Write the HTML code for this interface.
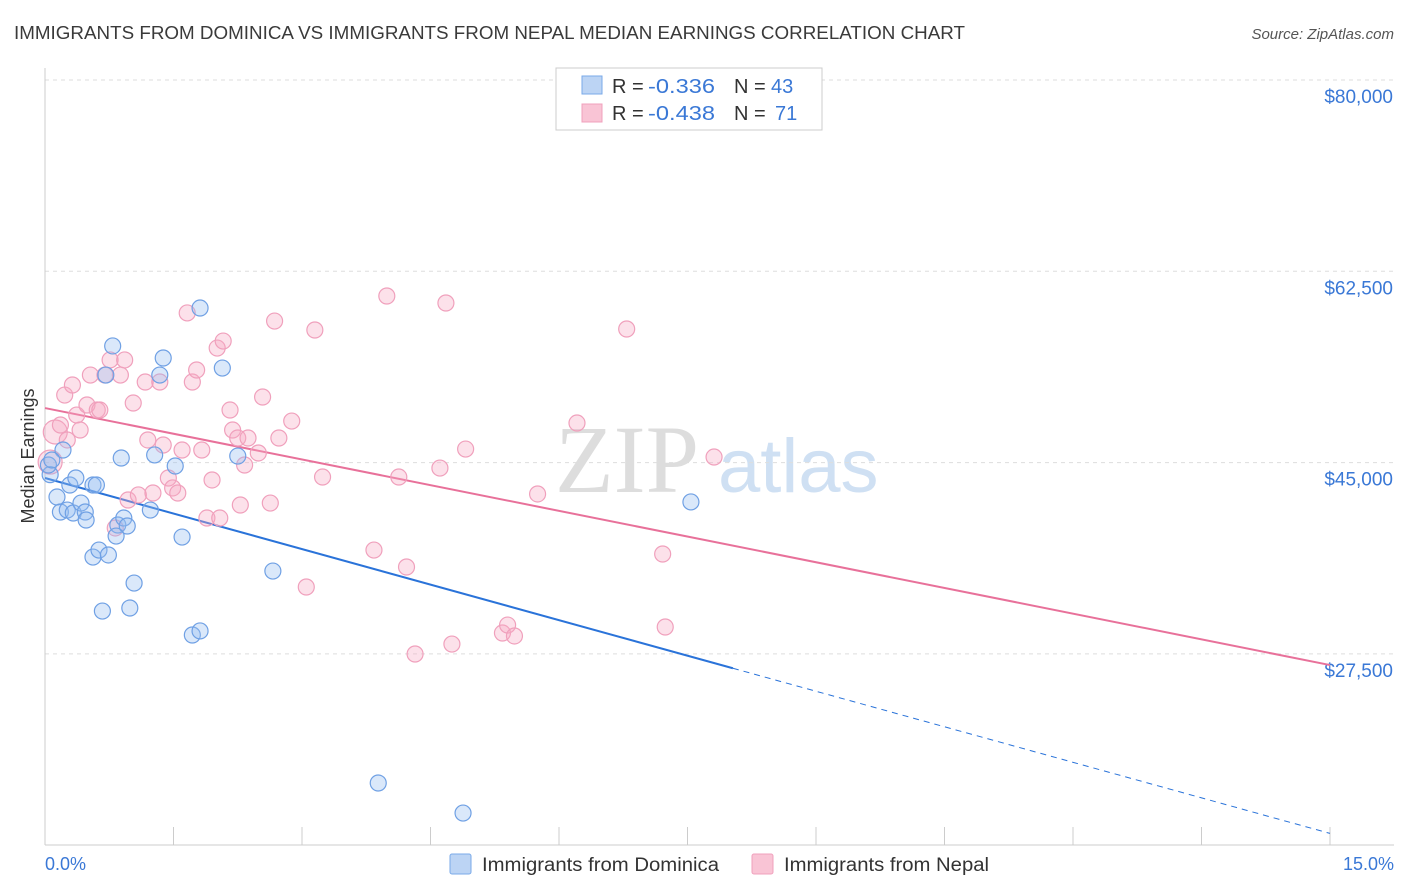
<!DOCTYPE html>
<html><head><meta charset="utf-8"><style>
body{margin:0;background:#fff;font-family:"Liberation Sans",sans-serif;}
svg{display:block}
</style></head><body>
<svg id="chart" width="1406" height="892">
<text x="14" y="39" font-size="18" fill="#3a3a3a" textLength="951" lengthAdjust="spacingAndGlyphs">IMMIGRANTS FROM DOMINICA VS IMMIGRANTS FROM NEPAL MEDIAN EARNINGS CORRELATION CHART</text>
<text x="1394" y="39" font-size="15" fill="#555" text-anchor="end" font-style="italic">Source: ZipAtlas.com</text>
<text x="555" y="492" font-size="96" fill="#ddd" font-family="Liberation Serif,serif">ZIP</text>
<text x="718" y="492" font-size="76" fill="#cfe0f3">atlas</text>
<text transform="translate(34,456) rotate(-90)" font-size="18" fill="#333" text-anchor="middle">Median Earnings</text>
<g id="grid"></g><g id="axes"></g><g id="lines"></g><g id="pts"></g>
<g>
<rect x="556" y="68" width="266" height="62" fill="#fff" stroke="#ccc"/>
<rect x="582" y="76" width="20" height="18" fill="#bcd4f4" stroke="#7aaae8"/>
<rect x="582" y="104" width="20" height="18" fill="#f9c4d5" stroke="#f0a0bc"/>
<text x="612" y="93" font-size="20" fill="#333">R = <tspan fill="#3a78d6" x="648" textLength="67" lengthAdjust="spacingAndGlyphs">-0.336</tspan><tspan x="734">N = </tspan><tspan fill="#3a78d6" x="771">43</tspan></text>
<text x="612" y="120" font-size="20" fill="#333">R = <tspan fill="#3a78d6" x="648" textLength="67" lengthAdjust="spacingAndGlyphs">-0.438</tspan><tspan x="734">N = </tspan><tspan fill="#3a78d6" x="775">71</tspan></text>
</g>
<g>
<rect x="450" y="854" width="21" height="20" fill="#bcd4f4" stroke="#7aaae8" rx="2"/>
<text x="482" y="871" font-size="19" fill="#333" textLength="237" lengthAdjust="spacingAndGlyphs">Immigrants from Dominica</text>
<rect x="752" y="854" width="21" height="20" fill="#f9c4d5" stroke="#f0a0bc" rx="2"/>
<text x="784" y="871" font-size="19" fill="#333" textLength="205" lengthAdjust="spacingAndGlyphs">Immigrants from Nepal</text>
</g>
<text x="45" y="870" font-size="18" fill="#3a78d6">0.0%</text>
<text x="1394" y="870" font-size="18" fill="#3a78d6" text-anchor="end">15.0%</text>
</svg>
<script>
const yTicks=[80000,62500,45000,27500];
const yTickLabels=["$80,000","$62,500","$45,000","$27,500"];
const domX=[0.06,0.14,0.21,0.18,0.29,0.26,0.36,0.33,0.42,0.47,0.48,0.56,0.60,0.56,0.63,0.74,0.67,0.79,0.71,0.89,0.85,0.92,0.96,0.83,1.04,0.99,1.23,1.28,1.34,1.38,1.52,1.60,1.72,1.81,1.81,2.07,2.25,2.66,3.89,4.88,7.54,0.04,0.08];
const domY=[43900,41850,46150,40480,42950,40660,43590,40390,41300,40480,39750,42950,42950,36360,37000,36550,31420,55670,53010,45420,39290,39930,39200,38280,33980,31700,40660,45700,53010,54570,44690,38190,29230,29600,59140,53650,45600,35080,15690,12940,41400,44780,45240];
const nepX=[0.12,0.06,0.18,0.23,0.32,0.26,0.37,0.41,0.49,0.53,0.61,0.64,0.70,0.76,0.82,0.88,0.93,0.97,1.03,1.09,1.17,1.20,1.26,1.34,1.38,1.44,1.49,1.55,1.60,1.66,1.72,1.77,1.83,1.89,1.95,2.01,2.04,2.08,2.16,2.19,2.25,2.28,2.33,2.37,2.49,2.54,2.63,2.68,2.73,2.88,3.05,3.15,3.24,3.84,3.99,4.13,4.22,4.32,4.61,4.68,4.75,4.91,5.34,5.40,5.48,5.75,6.21,6.79,7.21,7.24,7.81];
const nepY=[47800,45050,48440,51180,52100,47070,49350,47980,50270,53010,49810,49810,53010,54390,39020,53010,54390,41580,50450,42040,52370,47070,42220,52370,46610,43590,42680,42220,46150,58690,52370,53470,46150,39930,43410,55480,39930,56120,49810,47980,47250,41120,44780,47250,45880,51000,41300,57950,47250,48800,33620,57130,43680,37000,60240,43680,35450,27490,44500,59600,28400,46240,29410,30140,29140,42130,48620,57220,36640,29960,45510];
const nepBig=[0,1];
const domLine=[43590,11080];
const nepLine=[49990,26480];
const X=v=>45+v*1285/15, Y=v=>80+(80000-v)*191.3/17500;
const NS="http://www.w3.org/2000/svg";
function mk(tag,attrs,parent){const e=document.createElementNS(NS,tag);for(const k in attrs)e.setAttribute(k,attrs[k]);document.getElementById(parent).appendChild(e);return e;}
yTicks.forEach((t,i)=>{
 const g=mk('line',{x1:45,x2:1394,y1:Y(t),y2:Y(t),stroke:'#ddd','stroke-dasharray':'4,4'},'grid');
 
 
 const tx=mk('text',{x:1393,y:Y(t)+23,'font-size':19,fill:'#3a78d6','text-anchor':'end'},'grid');
 tx.textContent=yTickLabels[i];
 
 
});
const ax=mk('line',{x1:45,x2:45,y1:68,y2:845,stroke:'#ccc'},'axes');


const bx=mk('line',{x1:45,x2:1394,y1:845,y2:845,stroke:'#ccc'},'axes');


for(let i=0;i<=10;i++){
 const t=mk('line',{x1:X(i*1.5),x2:X(i*1.5),y1:827,y2:845,stroke:'#ccc'},'axes');
 
 
}
const lv=x=>domLine[0]+(domLine[1]-domLine[0])*x/15;
const l1=mk('line',{x1:X(0),y1:Y(lv(0)),x2:X(8.03),y2:Y(lv(8.03)),stroke:'#2a73d9','stroke-width':2},'lines');


const l2=mk('line',{x1:X(8.03),y1:Y(lv(8.03)),x2:X(15),y2:Y(lv(15)),stroke:'#2a73d9','stroke-width':1,'stroke-dasharray':'6,5'},'lines');


const l3=mk('line',{x1:X(0),y1:Y(nepLine[0]),x2:X(15),y2:Y(nepLine[1]),stroke:'#e8719a','stroke-width':2},'lines');


nepX.forEach((x,i)=>{
 const c=mk('circle',{cx:X(x),cy:Y(nepY[i]),r:nepBig.includes(i)?12:8,fill:'rgba(245,170,195,0.35)',stroke:'#f0a0bc','stroke-width':1.2},'pts');
 
 
});
domX.forEach((x,i)=>{
 const c=mk('circle',{cx:X(x),cy:Y(domY[i]),r:8,fill:'rgba(150,190,240,0.35)',stroke:'#6fa0e4','stroke-width':1.2},'pts');
 
 
});
</script>
</body></html>
